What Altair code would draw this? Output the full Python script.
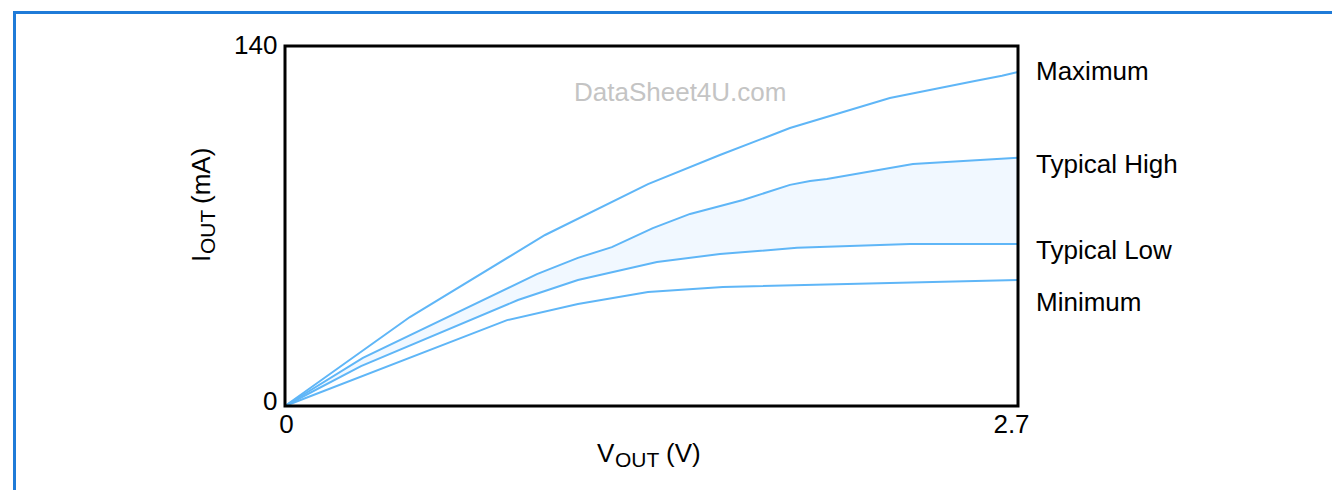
import altair as alt
import pandas as pd

# ---- data ----
max_v = [0, 0.46, 0.958, 1.337, 1.602, 1.86, 2.228, 2.541, 2.641, 2.7]
max_i = [0, 34.6, 66.5, 86.3, 97.6, 108.1, 119.8, 126.4, 128.4, 129.9]

th_v = [0, 0.287, 0.928, 1.079, 1.204, 1.355, 1.492, 1.687, 1.86, 1.934, 1.996, 2.313, 2.7]
th_i = [0, 18.7, 51.3, 57.6, 61.8, 69.2, 74.7, 80.1, 86.0, 87.5, 88.3, 94.1, 96.5]

tl_v = [0, 0.28, 0.858, 1.079, 1.37, 1.602, 1.886, 2.302, 2.7]
tl_i = [0, 15.5, 41.2, 49.0, 56.0, 59.1, 61.5, 63.0, 63.0]

min_v = [0, 0.818, 1.079, 1.337, 1.613, 2.7]
min_i = [0, 33.4, 39.7, 44.3, 46.3, 49.0]

label_names = ["Maximum", "Typical High", "Typical Low", "Minimum"]
label_i = [126.8, 90.6, 57.2, 36.9]

x_ticks = [0, 2.7]
y_ticks = [0, 140]

# ---- build tables ----
rows = []
for name, vals_v, vals_i in [("Maximum", max_v, max_i), ("Typical High", th_v, th_i),
                             ("Typical Low", tl_v, tl_i), ("Minimum", min_v, min_i)]:
    for v, i in zip(vals_v, vals_i):
        rows.append({"series": name, "v": v, "i": i})
df = pd.DataFrame(rows)
df_th = df[df.series == "Typical High"].reset_index(drop=True)
df_tl = df[df.series == "Typical Low"].reset_index(drop=True)
labels = pd.DataFrame({"label": label_names, "v": [x_ticks[-1]] * 4, "i": label_i})

FONT = "Liberation Sans"
LINE = "#5fb6f7"
W, H = 733, 360

xs = alt.Scale(domain=[0, 2.7], nice=False, zero=False)
ys = alt.Scale(domain=[0, 140], nice=False)

x_enc = alt.X("v:Q", scale=xs, axis=alt.Axis(
    values=x_ticks, format="~g", title=None, ticks=False, domain=False, grid=False,
    labelFlush=False, labelPadding=5, labelFontSize=26, labelFont=FONT,
    labelColor="black",
    labelOffset={"condition": {"test": "datum.value > 1", "value": -7}, "value": 1}))
y_enc = alt.Y("i:Q", scale=ys, axis=alt.Axis(
    values=y_ticks, title=None, ticks=False, domain=False, grid=False,
    labelPadding=8, labelFontSize=26, labelFont=FONT, labelColor="black",
    labelOffset={"condition": {"test": "datum.value < 1", "value": -5}, "value": -1}))

area_th = alt.Chart(df_th).mark_area(fill="#f1f8ff", fillOpacity=1).encode(
    x=x_enc, y=y_enc, y2=alt.datum(0))
area_tl = alt.Chart(df_tl).mark_area(fill="white", fillOpacity=1).encode(
    x="v:Q", y="i:Q", y2=alt.datum(0))

lines = alt.Chart(df).mark_line(color=LINE, strokeWidth=2).encode(
    x="v:Q", y="i:Q", detail="series:N", order="v:Q")

text_labels = alt.Chart(labels).mark_text(
    align="left", baseline="alphabetic", dx=18, fontSize=26, font=FONT, color="black"
).encode(x="v:Q", y="i:Q", text="label:N")

one = pd.DataFrame({"k": [0]})

def txt(s, x, y, size=26, angle=0, color="black"):
    kw = dict(align="left", baseline="alphabetic", fontSize=size, font=FONT,
              color=color, text=s)
    if angle:
        kw["angle"] = angle
    return alt.Chart(one).mark_text(**kw).encode(x=alt.value(x), y=alt.value(y))

watermark = txt("DataSheet4U.com", 289, 55, size=26, color="#c4c4c4")

# X title: V_OUT (V)
xt = [txt("V", 312, 416), txt("OUT", 330, 421, size=21), txt("(V)", 381, 416)]
# Y title: I_OUT (mA), rotated
yt = [txt("I", -75, 216, angle=270), txt("OUT", -70, 208, size=21, angle=270),
      txt("(mA)", -75, 158, angle=270)]

# plot frame drawn on top of the marks
frame_plot = alt.Chart(one).mark_rect(fill=None, stroke="black", strokeWidth=3).encode(
    x=alt.value(0), x2=alt.value(W), y=alt.value(0), y2=alt.value(H))

FRAME = "#1f7bd8"
frame_top = alt.Chart(one).mark_rule(color=FRAME, strokeWidth=3).encode(
    x=alt.value(-272), x2=alt.value(1060), y=alt.value(-33.5))
frame_left = alt.Chart(one).mark_rule(color=FRAME, strokeWidth=3).encode(
    x=alt.value(-270.5), y=alt.value(-35), y2=alt.value(470))

chart = alt.layer(area_th, area_tl, lines, text_labels, watermark, *xt, *yt,
                  frame_plot, frame_top, frame_left).properties(
    width=W, height=H,
    background="white",
    autosize=alt.AutoSizeParams(type="none"),
    padding={"left": 277, "top": 38, "right": 314, "bottom": 84},
).configure_view(stroke=None)

chart.save("out.html", embed_options={"renderer": "svg", "actions": False})
